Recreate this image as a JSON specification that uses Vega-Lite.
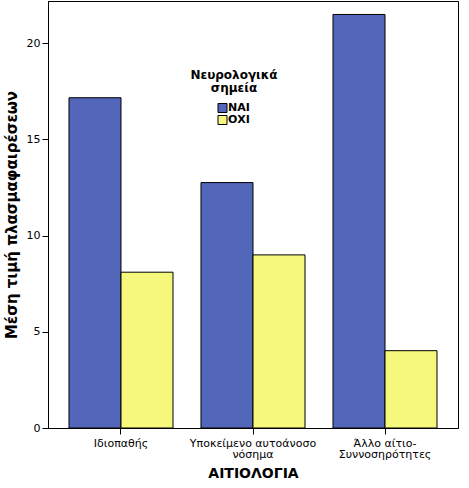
{
  "$schema": "https://vega.github.io/schema/vega-lite/v6.json",
  "width": 410,
  "height": 427,
  "autosize": "none",
  "padding": {"left": 48, "top": 1, "right": 11, "bottom": 60},
  "background": "white",
  "data": {
    "values": [
      {"cat": "Ιδιοπαθής", "group": "ΝΑΙ", "value": 17.17},
      {"cat": "Ιδιοπαθής", "group": "ΟΧΙ", "value": 8.1},
      {"cat": "Υποκείμενο αυτοάνοσο νόσημα", "group": "ΝΑΙ", "value": 12.76},
      {"cat": "Υποκείμενο αυτοάνοσο νόσημα", "group": "ΟΧΙ", "value": 9.0},
      {"cat": "Άλλο αίτιο-Συννοσηρότητες", "group": "ΝΑΙ", "value": 21.5},
      {"cat": "Άλλο αίτιο-Συννοσηρότητες", "group": "ΟΧΙ", "value": 4.02}
    ]
  },
  "config": {
    "font": "DejaVu Sans",
    "view": {"stroke": "black", "strokeWidth": 1},
    "axis": {"grid": false, "domainColor": "black", "tickColor": "black", "labelColor": "black", "titleColor": "black"}
  },
  "mark": {"type": "bar", "stroke": "black", "strokeWidth": 1},
  "encoding": {
    "x": {
      "field": "cat",
      "type": "nominal",
      "sort": null,
      "scale": {"paddingInner": 0.212, "paddingOuter": 0.159},
      "axis": {
        "title": "ΑΙΤΙΟΛΟΓΙΑ",
        "labelAngle": 0,
        "labelFontSize": 11,
        "labelLineHeight": 11.5,
        "labelPadding": 3,
        "tickSize": 6,
        "titleFontSize": 14,
        "titleFontWeight": "bold",
        "titlePadding": 7,
        "labelExpr": "datum.value == 'Υποκείμενο αυτοάνοσο νόσημα' ? ['Υποκείμενο αυτοάνοσο', 'νόσημα'] : datum.value == 'Άλλο αίτιο-Συννοσηρότητες' ? ['Άλλο αίτιο-', 'Συννοσηρότητες'] : datum.value"
      }
    },
    "xOffset": {
      "field": "group",
      "type": "nominal",
      "sort": ["ΝΑΙ", "ΟΧΙ"],
      "scale": {"paddingInner": 0, "paddingOuter": 0}
    },
    "y": {
      "field": "value",
      "type": "quantitative",
      "scale": {"domain": [0, 22.2], "nice": false},
      "axis": {
        "title": "Μέση τιμή πλασμαφαιρέσεων",
        "values": [0, 5, 10, 15, 20],
        "labelFontSize": 11,
        "labelPadding": 2,
        "tickSize": 6,
        "titleFontSize": 15,
        "titleFontWeight": "bold",
        "titlePadding": 7
      }
    },
    "color": {
      "field": "group",
      "type": "nominal",
      "sort": ["ΝΑΙ", "ΟΧΙ"],
      "scale": {"domain": ["ΝΑΙ", "ΟΧΙ"], "range": ["#5266ba", "#f5f87a"]},
      "legend": {
        "title": ["Νευρολογικά", "σημεία"],
        "orient": "none",
        "legendX": 142,
        "legendY": 69,
        "padding": 0,
        "titleAnchor": "start",
        "titleAlign": "center",
        "titleFontSize": 12,
        "titleFontWeight": "bold",
        "titleLineHeight": 12.5,
        "titlePadding": 8,
        "titleColor": "black",
        "symbolType": "square",
        "symbolSize": 81,
        "symbolStrokeColor": "black",
        "symbolStrokeWidth": 1,
        "symbolOffset": -17,
        "labelOffset": 0,
        "labelFontSize": 11,
        "labelFontWeight": "bold",
        "labelColor": "black",
        "rowPadding": -4
      }
    }
  }
}
